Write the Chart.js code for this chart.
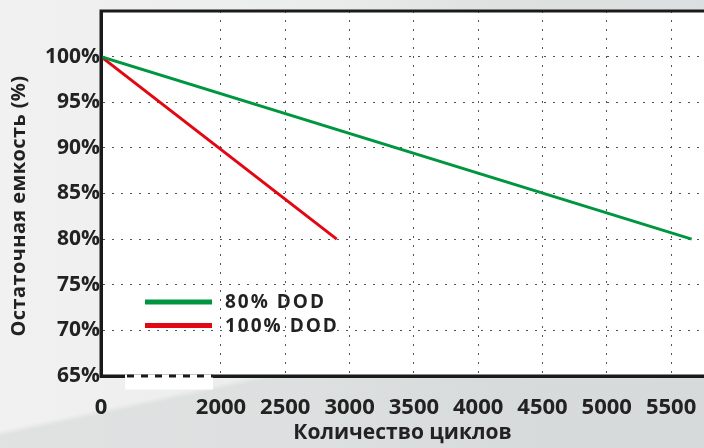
<!DOCTYPE html>
<html>
<head>
<meta charset="utf-8">
<script src="https://cdn.jsdelivr.net/npm/chart.js@4.4.1/dist/chart.umd.min.js"></script>
<style>
  html, body { margin: 0; padding: 0; }
  body {
    width: 704px; height: 448px; overflow: hidden;
    background:
      linear-gradient(168deg, rgba(255,255,255,0) 0%, rgba(255,255,255,0) 72%, rgba(210,214,214,0.55) 73%, rgba(210,214,214,0.55) 100%),
      linear-gradient(90deg, #f1f1f1 0%, #ebecec 45%, #dfe1e1 70%, #dcdfdf 100%);
  }
  #wrap { position: relative; width: 704px; height: 448px; }
</style>
</head>
<body>
<div id="wrap"><canvas id="capacity_chart" width="704" height="448"></canvas></div>
<script>
// cycles -> remaining capacity
var dod80Cycles = [0, 5660];
var dod80Capacity = [100, 80];
var dod100Cycles = [0, 2900];
var dod100Capacity = [100, 80];

var seriesLabels = ['80% DOD', '100% DOD'];
var xTickValues = [0, 2000, 2500, 3000, 3500, 4000, 4500, 5000, 5500];
var yTickValues = [65, 70, 75, 80, 85, 90, 95, 100];
var yTitle = 'Остаточная емкость (%)';
var xTitle = 'Количество циклов';

// the x axis is broken: 0..2000 is squeezed into a short stretch
var BREAK_START = 1067;
function axisX(v) {
    if (v >= 2000) return v;
    return BREAK_START + v * (2000 - BREAK_START) / 2000;
}
function toPoints(xs, ys) {
    return xs.map(function (x, i) { return { x: axisX(x), y: ys[i] }; });
}

var FONT = "'Open Sans', sans-serif";

var plotDecor = {
    id: 'plotDecor',
    beforeDraw: function (chart) {
        var a = chart.chartArea, ctx = chart.ctx;
        ctx.save();
        ctx.fillStyle = '#ffffff';
        ctx.fillRect(a.left, a.top, a.right - a.left, a.bottom - a.top);
        ctx.restore();
    },
    afterDraw: function (chart) {
        var a = chart.chartArea, ctx = chart.ctx;
        ctx.save();
        // frame lines (solid), drawn over the dotted grid
        ctx.strokeStyle = '#1a1a1a';
        ctx.lineWidth = 3;
        ctx.beginPath();
        ctx.moveTo(a.right, a.top);
        ctx.lineTo(a.left, a.top);
        ctx.lineTo(a.left, a.bottom);
        ctx.lineTo(a.right, a.bottom);
        ctx.stroke();

        // axis break mark under the bottom edge
        ctx.fillStyle = '#ffffff';
        ctx.fillRect(125, a.bottom - 1.5, 88, 15);
        ctx.setLineDash([7, 7]);
        ctx.beginPath();
        ctx.moveTo(127, a.bottom);
        ctx.lineTo(213, a.bottom);
        ctx.stroke();
        ctx.setLineDash([]);

        // y axis title, a bit below the axis centre as in the original
        ctx.save();
        ctx.translate(19, 206);
        ctx.rotate(-Math.PI / 2);
        ctx.font = 'bold 20px ' + FONT;
        ctx.fillStyle = '#222222';
        ctx.textAlign = 'center';
        ctx.textBaseline = 'middle';
        ctx.letterSpacing = '0.4px';
        ctx.fillText(yTitle, 0, 0);
        ctx.restore();

        // legend inside the plot
        var lx = 145, ly = 302;
        ctx.font = 'bold 19px ' + FONT;
        ctx.textBaseline = 'middle';
        ctx.letterSpacing = '2px';
        chart.data.datasets.forEach(function (ds, i) {
            var y = ly + i * 23.5;
            ctx.strokeStyle = ds.borderColor;
            ctx.lineWidth = 5;
            ctx.beginPath();
            ctx.moveTo(lx, y);
            ctx.lineTo(lx + 67, y);
            ctx.stroke();
            ctx.fillStyle = '#222222';
            ctx.fillText(ds.label, lx + 80, y + 1);
        });
        ctx.restore();
    }
};

var ctx = document.getElementById('capacity_chart').getContext('2d');
var myChart = new Chart(ctx, {
    type: 'line',
    data: {
        datasets: [
            {
                label: seriesLabels[0],
                data: toPoints(dod80Cycles, dod80Capacity),
                borderColor: '#009640',
                borderWidth: 3,
                pointRadius: 0,
                tension: 0
            },
            {
                label: seriesLabels[1],
                data: toPoints(dod100Cycles, dod100Capacity),
                borderColor: '#e30613',
                borderWidth: 3,
                pointRadius: 0,
                tension: 0
            }
        ]
    },
    options: {
        responsive: false,
        animation: false,
        layout: { padding: { top: 11, right: 0, bottom: 0, left: 0 } },
        scales: {
            x: {
                type: 'linear',
                min: BREAK_START,
                max: 5756,
                afterBuildTicks: function (scale) {
                    scale.ticks = xTickValues.map(function (v) { return { value: axisX(v) }; });
                },
                afterFit: function (scale) {
                    scale.height = 72;
                    scale.paddingLeft = 0;
                    scale.paddingRight = 0;
                },
                ticks: {
                    autoSkip: false,
                    maxRotation: 0,
                    padding: 19,
                    color: '#222222',
                    font: { family: FONT, size: 22, weight: 'bold' },
                    callback: function (value, index) { return String(xTickValues[index]); }
                },
                grid: {
                    color: function (c) { return c.index === 0 ? 'rgba(0,0,0,0)' : '#555555'; },
                    lineWidth: 1,
                    drawTicks: false
                },
                border: { color: '#1a1a1a', width: 3, dash: [2, 7] },
                title: {
                    display: true,
                    text: xTitle,
                    color: '#222222',
                    padding: { top: 0, bottom: 2 },
                    font: { family: FONT, size: 21, weight: 'bold' }
                }
            },
            y: {
                min: 65,
                max: 105,
                afterBuildTicks: function (scale) {
                    scale.ticks = yTickValues.map(function (v) { return { value: v }; });
                },
                afterFit: function (scale) {
                    scale.width = 101;
                    scale.paddingTop = 0;
                    scale.paddingBottom = 0;
                },
                ticks: {
                    padding: 1,
                    color: '#222222',
                    font: { family: FONT, size: 21, weight: 'bold' },
                    callback: function (value) { return value + '%'; }
                },
                grid: {
                    color: function (c) { return c.index === 0 ? 'rgba(0,0,0,0)' : '#555555'; },
                    lineWidth: 1,
                    drawTicks: false
                },
                border: { color: '#1a1a1a', width: 3, dash: [2, 7] }
            }
        },
        plugins: {
            legend: { display: false },
            tooltip: { enabled: false }
        }
    },
    plugins: [plotDecor]
});
</script>
</body>
</html>
